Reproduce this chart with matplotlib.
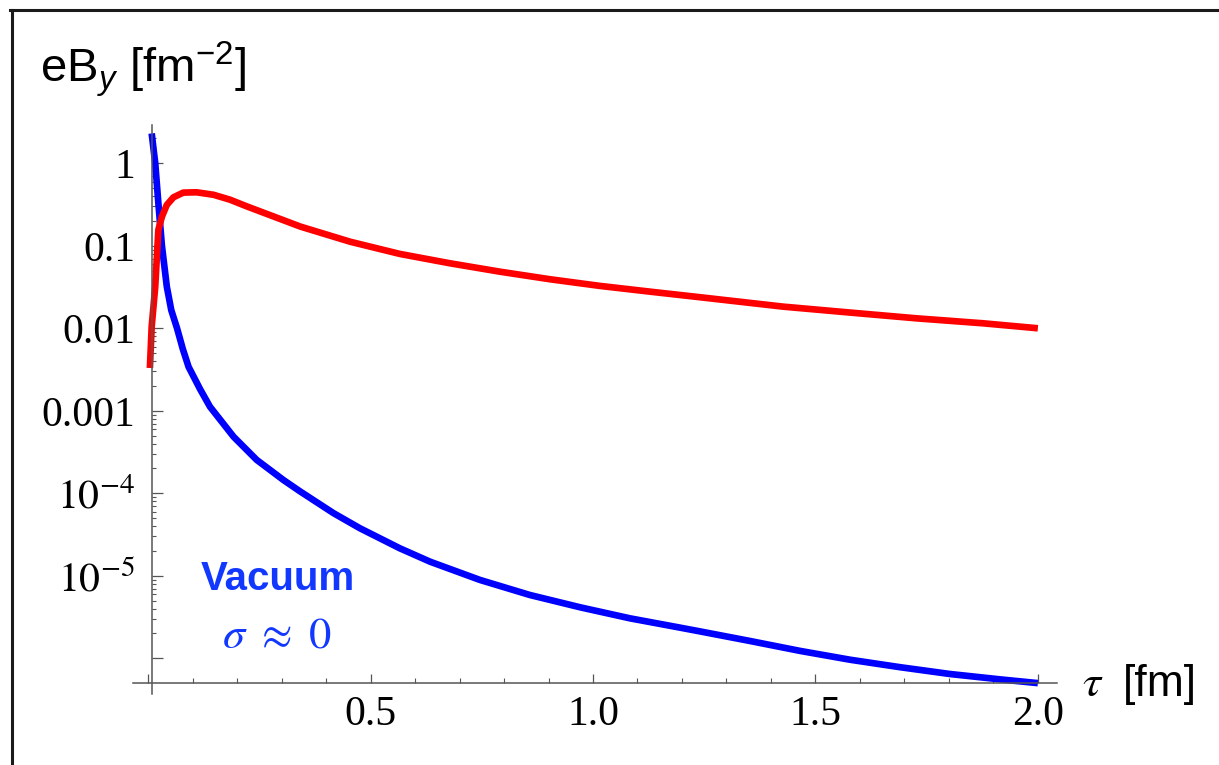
import matplotlib
matplotlib.use("Agg")
import matplotlib.pyplot as plt
from matplotlib.lines import Line2D

# ── Fonts ────────────────────────────────────────────────────────────────────
plt.rcParams["font.family"] = "Liberation Serif"
plt.rcParams["mathtext.fontset"] = "stix"
plt.rcParams["mathtext.rm"] = "Liberation Sans"
plt.rcParams["mathtext.it"] = "Liberation Sans:italic"
plt.rcParams["mathtext.bf"] = "Liberation Sans:bold"

# ── Data ─────────────────────────────────────────────────────────────────────
tau_vac = [0.008, 0.016, 0.023, 0.031, 0.042, 0.052, 0.065, 0.078, 0.091, 0.117,
           0.139, 0.192, 0.244, 0.304, 0.342, 0.417, 0.476, 0.566, 0.634, 0.746,
           0.858, 0.971, 1.083, 1.196, 1.240, 1.353, 1.465, 1.578, 1.690, 1.802,
           1.915, 2.0]
eB_vac = [2.3, 1.0, 0.33, 0.10, 0.032, 0.0166, 0.010, 5.6e-3, 3.4e-3, 1.82e-3,
          1.12e-3, 4.85e-4, 2.54e-4, 1.45e-4, 1.05e-4, 5.73e-5, 3.77e-5, 2.15e-5, 1.48e-5, 8.9e-6,
          5.85e-6, 4.15e-6, 3.05e-6, 2.35e-6, 2.12e-6, 1.62e-6, 1.23e-6, 9.6e-7, 7.8e-7, 6.45e-7,
          5.55e-7, 5.0e-7]

tau_med = [0.004, 0.008, 0.016, 0.020, 0.023, 0.031, 0.042, 0.057, 0.079, 0.109,
           0.147, 0.184, 0.222, 0.342, 0.454, 0.566, 0.678, 0.791, 0.903, 1.016,
           1.128, 1.240, 1.427, 1.578, 1.727, 1.876, 2.0]
eB_med = [0.0033, 0.0105, 0.032, 0.079, 0.156, 0.225, 0.313, 0.387, 0.441, 0.445,
          0.415, 0.362, 0.300, 0.171, 0.112, 0.0796, 0.0614, 0.0485, 0.0393, 0.0326,
          0.0278, 0.0238, 0.0183, 0.0155, 0.0132, 0.0115, 0.0100]

y_ticks  = [1, 0.1, 0.01, 1e-3, 1e-4, 1e-5, 1e-6]
y_labels = ["1", "0.1", "0.01", "0.001", r"$10^{-4}$", r"$10^{-5}$", ""]
x_ticks  = [0, 0.5, 1.0, 1.5, 2.0]
x_labels = ["", "0.5", "1.0", "1.5", "2.0"]

AX_COL = "#555555"
BLUE_TXT = "#1238ff"

# ── Figure ───────────────────────────────────────────────────────────────────
fig = plt.figure(figsize=(12.19, 7.65), dpi=100, facecolor="white")
ax = fig.add_axes([133 / 1219, 1 - 694 / 765, 924 / 1219, 569 / 765])

ax.plot(tau_vac, eB_vac, color="#0000ff", lw=4.8, solid_capstyle="butt",
        solid_joinstyle="round")
ax.plot(tau_med, eB_med, color="#ff0000", lw=4.8, solid_capstyle="butt",
        solid_joinstyle="round")

ax.set_yscale("log")
ax.set_xlim(-0.034, 2.043)
ax.set_ylim(3.69e-7, 2.91)

for s in ("top", "right"):
    ax.spines[s].set_visible(False)
ax.spines["left"].set_position(("data", 0.009))
ax.spines["bottom"].set_position(("data", 5e-7))
for s in ("left", "bottom"):
    ax.spines[s].set_color(AX_COL)
    ax.spines[s].set_linewidth(1.1)

ax.set_yticks(y_ticks, y_labels)
y_minor = [m * 10.0 ** e for e in range(-6, 1) for m in range(2, 10)
           if m * 10.0 ** e < 2.91]
ax.set_yticks(y_minor, minor=True)
ax.set_xticks(x_ticks, x_labels)
ax.set_xticks([i / 10 for i in range(1, 20) if i % 5], minor=True)

ax.tick_params(axis="y", which="major", direction="in", length=8, width=0.9,
               color=AX_COL, pad=12, labelsize=30)
ax.tick_params(axis="y", which="minor", direction="in", length=3, width=0.8,
               color=AX_COL)
ax.tick_params(axis="x", which="major", direction="in", length=6.5, width=0.9,
               color=AX_COL, pad=9, labelsize=30)
ax.tick_params(axis="x", which="minor", direction="in", length=3.8, width=0.8,
               color=AX_COL)

# ── Labels ───────────────────────────────────────────────────────────────────
fig.text(40 / 1219, 1 - 82 / 765, r"eB$_y$ [fm$^{-2}$]", fontfamily="Liberation Sans",
         math_fontfamily="custom", fontsize=34, va="baseline", ha="left")
fig.text(1082 / 1219, 1 - 696 / 765, r"$\tau$", fontsize=33,
         va="baseline", ha="left")
fig.text(1197 / 1219, 1 - 696 / 765, "[fm]", fontfamily="Liberation Sans",
         fontsize=32, va="baseline", ha="right")
fig.text(277.5 / 1219, 1 - 590 / 765, "Vacuum", fontfamily="Liberation Sans",
         fontweight="bold", fontsize=29, color=BLUE_TXT, va="baseline", ha="center")
fig.text(277.5 / 1219, 1 - 647 / 765, r"$\sigma\ \approx\ 0$", fontsize=32,
         color=BLUE_TXT, va="baseline", ha="center")

# frame around the picture (top and left edges only are visible)
fig.add_artist(Line2D([10 / 1219, 1], [1 - 10 / 765, 1 - 10 / 765],
                      transform=fig.transFigure, color="#1a1a1a", lw=2.2))
fig.add_artist(Line2D([11.5 / 1219, 11.5 / 1219], [1 - 10 / 765, 0],
                      transform=fig.transFigure, color="#1a1a1a", lw=2.2))

fig.savefig("out.png", dpi=100, facecolor="white")
